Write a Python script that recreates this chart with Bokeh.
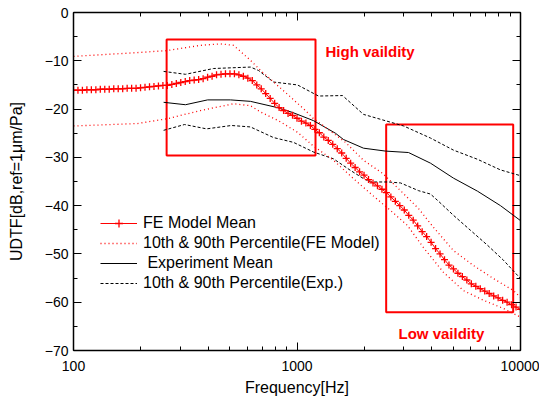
from bokeh.plotting import figure
from bokeh.models import (Legend, LegendItem, LinearAxis, LogAxis, FixedTicker,
                          NumeralTickFormatter, Label)
from bokeh.embed import file_html
from bokeh.resources import INLINE

# ---------------- data ----------------
# FE model mean, sampled at the marker positions
fe_freq = [100, 104.7, 109.6, 114.8, 120.2, 125.9, 131.8, 138.0, 144.5, 151.4,
           158.5, 166.0, 173.8, 182.0, 190.5, 199.5, 208.9, 218.8, 229.1, 239.9,
           251.2, 263.0, 275.4, 288.4, 302.0, 316.2, 331.1, 346.7, 363.1, 380.2,
           398.1, 416.9, 436.5, 457.1, 478.6, 501.2, 524.8, 549.5, 575.4, 602.6,
           631.0, 660.7, 691.8, 724.4, 758.6, 794.3, 831.8, 871.0, 912.0, 955.0,
           1000, 1047, 1096, 1148, 1202, 1259, 1318, 1380, 1445, 1514,
           1585, 1660, 1738, 1820, 1905, 1995, 2089, 2188, 2291, 2399,
           2512, 2630, 2754, 2884, 3020, 3162, 3311, 3467, 3631, 3802,
           3981, 4169, 4365, 4571, 4786, 5012, 5248, 5495, 5754, 6026,
           6310, 6607, 6918, 7244, 7586, 7943, 8318, 8710, 9120, 9550, 10000]
fe_mean = [-16.1, -16.1, -16.1, -16.0, -16.0, -16.0, -15.9, -15.9, -15.9, -15.8,
           -15.8, -15.8, -15.7, -15.7, -15.7, -15.6, -15.5, -15.4, -15.3, -15.2,
           -15.1, -15.1, -14.9, -14.7, -14.5, -14.3, -14.1, -14.0, -13.9, -13.7,
           -13.4, -13.2, -12.9, -12.8, -12.7, -12.7, -12.7, -12.9, -13.2, -13.6,
           -14.1, -15.0, -15.8, -16.8, -17.8, -18.8, -19.7, -20.3, -20.9, -21.3,
           -21.9, -22.5, -22.9, -23.4, -24.2, -24.9, -25.8, -26.5, -27.3, -28.2,
           -29.1, -30.2, -31.2, -32.1, -33.0, -33.7, -34.6, -35.3, -35.9, -36.6,
           -37.3, -38.2, -39.1, -40.0, -40.9, -42.0, -43.0, -44.2, -45.4, -46.4,
           -47.6, -48.9, -50.0, -51.2, -52.3, -53.1, -54.0, -54.7, -55.4, -56.2,
           -56.7, -57.2, -57.7, -58.2, -58.7, -59.1, -59.6, -60.0, -60.5, -61.0, -61.5]

fe_p90_freq = [100, 193, 261, 370, 455, 520, 576, 619, 687, 818, 935, 1091, 1186,
               1274, 1648, 1984, 2413, 2906, 3497, 4080, 5012, 6162, 7568, 9304, 10000]
fe_p90 = [-9.1, -8.3, -7.9, -6.8, -6.5, -6.8, -8.6, -9.9, -12.0, -15.1, -17.5, -20.3,
          -22.0, -23.0, -26.9, -30.6, -33.3, -36.9, -40.6, -44.5, -49.3, -52.4,
          -55.1, -57.6, -59.0]

fe_p10_freq = [100, 193, 263, 370, 520, 619, 687, 826, 1005, 1173, 1456, 1789,
               2133, 2620, 3120, 3681, 4520, 5556, 6830, 8390, 10000]
fe_p10 = [-23.5, -23.0, -22.0, -20.3, -18.9, -19.3, -20.6, -22.4, -24.8, -27.5,
          -30.6, -34.4, -37.5, -41.0, -44.1, -48.7, -53.8, -57.6, -59.6, -61.3, -63.1]

exp_mean_freq = [253, 317, 398, 504, 619, 818, 955, 1186, 1486, 1614, 1984, 2489,
                 3154, 3955, 5012, 6420, 8136, 10000]
exp_mean = [-18.6, -19.1, -18.1, -18.1, -18.4, -19.7, -20.7, -22.4, -25.0, -26.3,
            -28.1, -28.7, -29.0, -31.2, -34.3, -37.0, -40.0, -43.1]

exp_p90_freq = [253, 317, 423, 619, 672, 785, 1005, 1248, 1598, 1984, 3000, 3955,
                5012, 6420, 8136, 10000]
exp_p90 = [-12.2, -12.8, -11.6, -11.3, -12.0, -14.4, -15.0, -17.3, -17.2, -21.1,
           -23.5, -26.0, -28.5, -30.4, -32.6, -33.8]

exp_p10_freq = [253, 314, 394, 509, 619, 785, 965, 1186, 1456, 1735, 1984, 2133,
                2566, 2906, 3500, 3955, 4252, 5012, 5970, 7117, 8390, 10000]
exp_p10 = [-24.4, -23.2, -24.1, -23.4, -23.7, -25.9, -26.9, -28.9, -30.3, -32.7,
           -34.4, -35.1, -35.1, -35.3, -36.9, -37.6, -38.9, -42.0, -45.1, -48.2,
           -51.3, -55.1]

# validity boxes: [f_left, f_right], [dB_bottom, dB_top]
box_names = ["High vaildity", "Low vaildity"]
box_f_left = [261, 2506]
box_f_right = [1210, 9275]
box_db_bottom = [-29.6, -62.1]
box_db_top = [-5.6, -23.2]
box_label_f = [1341, 2845]
box_label_db = [-8.0, -66.4]

x_major = [100, 1000, 10000]
x_minor = [m * d for d in (100, 1000) for m in range(2, 10)]
y_major = [-70, -60, -50, -40, -30, -20, -10, 0]
y_minor = [-65, -55, -45, -35, -25, -15, -5]

legend_labels = ["FE Model Mean", "10th & 90th Percentile(FE Model)",
                 " Experiment Mean", "10th & 90th Percentile(Exp.)"]

FONT = "Liberation Sans"
RED = "#ff0000"

# ---------------- figure ----------------
p = figure(width=539, height=401, x_axis_type="log", x_range=(100, 10000),
           y_range=(-70, 0), output_backend="svg", toolbar_location=None,
           min_border_left=73, min_border_right=19, min_border_top=12,
           min_border_bottom=51)
p.xgrid.visible = False
p.ygrid.visible = False
p.outline_line_color = "black"
p.outline_line_width = 1
p.background_fill_color = "white"
p.border_fill_color = "white"


def style_axis(ax, ticks, minor, show_labels=True):
    ax.ticker = FixedTicker(ticks=ticks, minor_ticks=minor)
    ax.major_tick_in = 8
    ax.major_tick_out = 0
    ax.minor_tick_in = 4
    ax.minor_tick_out = 0
    ax.axis_line_color = "black"
    ax.axis_line_width = 1.5
    ax.major_tick_line_color = "black"
    ax.minor_tick_line_color = "black"
    ax.major_tick_line_width = 1
    ax.minor_tick_line_width = 1
    ax.major_label_text_font = FONT
    ax.major_label_text_color = "black"
    ax.major_label_text_font_size = "14px"
    ax.axis_label_text_color = "black"
    if not show_labels:
        ax.major_label_text_font_size = "1px"
        ax.major_label_text_alpha = 0
        ax.major_label_standoff = 0


xa = p.xaxis[0]
style_axis(xa, x_major, x_minor)
xa.formatter = NumeralTickFormatter(format="0")
xa.major_label_standoff = 10
xa.axis_label = "Frequency[Hz]"
xa.axis_label_text_font = FONT
xa.axis_label_text_font_size = "16px"
xa.axis_label_text_font_style = "normal"
xa.axis_label_standoff = 5

ya = p.yaxis[0]
style_axis(ya, y_major, y_minor)
ya.major_label_standoff = 5
ya.axis_label = "UDTF[dB,ref=1\u03bcm/Pa]"
ya.axis_label_text_font = FONT
ya.axis_label_text_font_size = "16px"
ya.axis_label_text_font_style = "normal"
ya.axis_label_standoff = 17

top = LogAxis()
style_axis(top, x_major, x_minor, show_labels=False)
top.formatter = NumeralTickFormatter(format="0")
p.add_layout(top, "above")
right = LinearAxis()
style_axis(right, y_major, y_minor, show_labels=False)
p.add_layout(right, "right")

# ---------------- validity boxes ----------------
p.quad(left=box_f_left, right=box_f_right, bottom=box_db_bottom, top=box_db_top,
       fill_color=None, line_color=RED, line_width=2)
for name, fx, fy in zip(box_names, box_label_f, box_label_db):
    p.add_layout(Label(x=fx, y=fy, text=name, text_font=FONT, text_font_size="15px",
                       text_font_style="bold", text_color=RED,
                       text_baseline="alphabetic", text_align="left"))

# ---------------- curves ----------------
r_p90e = p.line(exp_p90_freq, exp_p90, line_color="black", line_width=1, line_dash="3 2")
r_p10e = p.line(exp_p10_freq, exp_p10, line_color="black", line_width=1, line_dash="3 2")
r_meane = p.line(exp_mean_freq, exp_mean, line_color="black", line_width=1)
r_p90f = p.line(fe_p90_freq, fe_p90, line_color=RED, line_width=1.3, line_dash="1 3")
r_p10f = p.line(fe_p10_freq, fe_p10, line_color=RED, line_width=1.3, line_dash="1 3")
r_meanf = p.line(fe_freq, fe_mean, line_color=RED, line_width=1)
r_meanf_m = p.scatter(fe_freq, fe_mean, marker="cross", size=7, line_color=RED,
                      line_width=1.3)

legend = Legend(items=[
    LegendItem(label=legend_labels[0], renderers=[r_meanf, r_meanf_m]),
    LegendItem(label=legend_labels[1], renderers=[r_p90f]),
    LegendItem(label=legend_labels[2], renderers=[r_meane]),
    LegendItem(label=legend_labels[3], renderers=[r_p90e]),
], location=(27, 57))
legend.border_line_color = None
legend.background_fill_alpha = 0
legend.padding = 0
legend.margin = 0
legend.spacing = 0
legend.glyph_width = 37
legend.glyph_height = 20
legend.label_height = 20
legend.label_standoff = 6
legend.label_text_font = FONT
legend.label_text_font_size = "16px"
legend.label_text_color = "black"
p.add_layout(legend)

open("out.html", "w").write(file_html(p, INLINE))
